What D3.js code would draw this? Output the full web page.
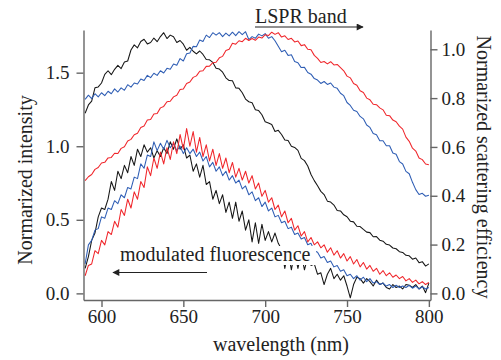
<!DOCTYPE html>
<html><head><meta charset="utf-8">
<script src="https://cdn.jsdelivr.net/npm/d3@7"></script>
<style>body{margin:0;background:#fff}svg{display:block}</style>
</head><body>
<script>
const wavelengths = [
590,592,594,596,598,600,602,604,606,608,
610,612,614,616,618,620,622,624,626,628,
630,632,634,636,638,640,642,644,646,648,
650,652,654,656,658,660,662,664,666,668,
670,672,674,676,678,680,682,684,686,688,
690,692,694,696,698,700,702,704,706,708,
710,712,714,716,718,720,722,724,726,728,
730,732,734,736,738,740,742,744,746,748,
750,752,754,756,758,760,762,764,766,768,
770,772,774,776,778,780,782,784,786,788,
790,792,794,796,798,800];

// scattering efficiency (right axis)
const scatBlack = [
0.738,0.772,0.788,0.842,0.846,0.862,0.897,0.912,0.896,0.918,
0.934,0.921,0.948,0.952,0.997,1.018,1.006,1.032,1.041,1.022,
1.028,1.046,1.031,1.052,1.068,1.044,1.058,1.051,1.028,1.036,
1.021,0.996,1.008,0.992,0.981,0.993,0.979,0.958,0.957,0.946,
0.922,0.919,0.906,0.883,0.872,0.871,0.842,0.840,0.822,0.796,
0.785,0.781,0.752,0.749,0.732,0.703,0.698,0.692,0.663,0.668,
0.651,0.628,0.626,0.603,0.598,0.586,0.553,0.544,0.522,0.487,
0.462,0.441,0.418,0.405,0.378,0.374,0.362,0.340,0.338,0.322,
0.314,0.296,0.293,0.275,0.274,0.262,0.251,0.249,0.232,0.233,
0.218,0.214,0.201,0.198,0.186,0.183,0.171,0.168,0.156,0.154,
0.140,0.145,0.126,0.130,0.112,0.121];
const scatBlue = [
0.795,0.812,0.798,0.818,0.805,0.822,0.810,0.828,0.818,0.838,
0.825,0.842,0.832,0.855,0.845,0.862,0.858,0.878,0.872,0.893,
0.884,0.902,0.893,0.912,0.903,0.922,0.918,0.940,0.935,0.962,
0.952,0.982,0.985,1.012,1.010,1.038,1.032,1.058,1.048,1.068,
1.058,1.068,1.052,1.066,1.055,1.070,1.056,1.072,1.060,1.072,
1.040,1.052,1.045,1.062,1.055,1.064,1.045,1.052,1.035,1.012,
0.990,0.996,0.975,0.978,0.950,0.945,0.925,0.926,0.905,0.898,
0.880,0.874,0.860,0.868,0.856,0.862,0.845,0.840,0.820,0.810,
0.782,0.770,0.750,0.745,0.725,0.715,0.690,0.680,0.655,0.650,
0.625,0.625,0.605,0.605,0.575,0.570,0.540,0.530,0.500,0.490,
0.455,0.425,0.405,0.410,0.398,0.402];
const scatRed = [
0.462,0.478,0.487,0.508,0.516,0.534,0.537,0.555,0.557,0.574,
0.573,0.594,0.601,0.624,0.631,0.650,0.656,0.680,0.686,0.710,
0.712,0.735,0.737,0.760,0.766,0.785,0.787,0.805,0.812,0.835,
0.837,0.860,0.866,0.885,0.891,0.910,0.912,0.930,0.931,0.945,
0.947,0.965,0.971,0.995,1.000,1.025,1.021,1.035,1.031,1.045,
1.036,1.044,1.037,1.050,1.046,1.060,1.056,1.070,1.061,1.068,
1.050,1.055,1.040,1.045,1.030,1.034,1.015,1.019,1.000,0.998,
0.975,0.963,0.946,0.950,0.940,0.949,0.936,0.938,0.925,0.912,
0.890,0.883,0.860,0.853,0.830,0.823,0.800,0.793,0.775,0.773,
0.760,0.752,0.730,0.728,0.710,0.703,0.685,0.673,0.640,0.623,
0.595,0.583,0.555,0.548,0.530,0.527];

// fluorescence intensity (left axis)
const fluoBlack = [
0.17,0.25,0.36,0.41,0.52,0.58,0.57,0.64,0.76,0.70,
0.83,0.78,0.87,0.82,0.93,0.87,0.98,0.93,1.01,0.96,
0.99,0.92,0.97,0.93,0.99,0.95,1.03,0.98,1.05,0.98,
1.01,0.92,0.94,0.83,0.88,0.79,0.87,0.74,0.76,0.64,
0.70,0.61,0.67,0.55,0.62,0.51,0.62,0.49,0.56,0.43,
0.50,0.35,0.48,0.34,0.47,0.36,0.42,0.35,0.41,0.34,
0.30,0.17,0.29,0.16,0.28,0.17,0.27,0.16,0.25,0.19,
0.20,0.13,0.14,0.06,0.13,0.17,0.10,0.13,0.09,0.12,
0.05,-0.03,0.06,0.11,0.10,0.07,0.10,0.08,0.05,0.09,
0.06,0.07,0.04,0.03,0.06,0.04,0.05,0.03,0.06,0.055,
0.04,0.06,0.03,0.05,0.005,0.07];
const fluoBlue = [
0.20,0.33,0.36,0.43,0.44,0.52,0.51,0.58,0.57,0.63,
0.61,0.67,0.65,0.72,0.71,0.79,0.78,0.88,0.85,0.94,
0.93,1.03,0.97,1.02,0.98,1.04,0.99,1.02,0.97,1.00,
0.95,0.99,0.95,0.98,0.93,0.96,0.90,0.93,0.86,0.89,
0.83,0.86,0.80,0.83,0.77,0.80,0.75,0.77,0.71,0.73,
0.67,0.69,0.63,0.65,0.59,0.62,0.56,0.58,0.52,0.53,
0.48,0.49,0.44,0.45,0.40,0.41,0.37,0.38,0.33,0.34,
0.29,0.28,0.24,0.25,0.21,0.22,0.18,0.19,0.15,0.16,
0.12,0.13,0.10,0.12,0.09,0.11,0.08,0.10,0.07,0.08,
0.06,0.07,0.05,0.06,0.04,0.055,0.04,0.05,0.04,0.055,
0.035,0.05,0.03,0.045,0.03,0.04];
const fluoRed = [
0.12,0.19,0.20,0.29,0.27,0.36,0.33,0.42,0.40,0.49,
0.45,0.57,0.53,0.64,0.58,0.69,0.64,0.76,0.72,0.86,
0.80,0.92,0.85,0.96,0.88,0.99,0.91,1.03,0.95,1.08,
0.98,1.12,1.00,1.10,0.96,1.06,0.93,1.01,0.90,0.98,
0.87,0.95,0.85,0.92,0.82,0.89,0.79,0.85,0.77,0.83,
0.75,0.80,0.71,0.75,0.66,0.70,0.62,0.65,0.57,0.60,
0.52,0.56,0.48,0.51,0.43,0.46,0.39,0.42,0.35,0.38,
0.33,0.35,0.31,0.33,0.28,0.31,0.26,0.29,0.24,0.27,
0.22,0.25,0.20,0.23,0.18,0.21,0.165,0.19,0.15,0.17,
0.13,0.155,0.12,0.14,0.11,0.125,0.10,0.115,0.085,0.10,
0.075,0.09,0.065,0.08,0.06,0.075];

const xTicks = [600,650,700,750,800];
const leftTicks = [0,0.5,1.0,1.5];
const rightTicks = [0,0.2,0.4,0.6,0.8,1.0];

const FONT = "'Liberation Serif'";
const W=501,H=360;
const svg=d3.select("body").append("svg").attr("width",W).attr("height",H);
const x=d3.scaleLinear().domain([589,801]).range([83.5,430.5]);
const yL=d3.scaleLinear().domain([-0.045,1.79]).range([300,30]);
const yR=d3.scaleLinear().domain([-0.027,1.079]).range([300,30]);

const COL={black:"#161616",blue:"#2e5db4",red:"#f0262b"};
const plot=svg.append("g");
function draw(vals,y,c){
  const line=d3.line().x((d,i)=>x(wavelengths[i])).y(d=>y(d));
  plot.append("path").datum(vals).attr("d",line).attr("fill","none")
    .attr("stroke",c).attr("stroke-width",1.05).attr("stroke-linejoin","round");
}
draw(scatBlack,yR,COL.black);
draw(scatBlue,yR,COL.blue);
draw(scatRed,yR,COL.red);
draw(fluoBlack,yL,COL.black);
draw(fluoBlue,yL,COL.blue);
draw(fluoRed,yL,COL.red);

// axes
const axCol="#666";
function style(g){
  g.attr("font-family",null).attr("font-size",null);
  g.selectAll("path.domain").attr("stroke",axCol).attr("stroke-width",1.4);
  g.selectAll(".tick line").attr("stroke",axCol).attr("stroke-width",1.4);
  g.selectAll(".tick text").style("font-family",FONT).style("font-size","19px").attr("fill","#222");
}
const gx=svg.append("g").attr("transform","translate(0,300)")
  .call(d3.axisBottom(x).tickValues(xTicks).tickSize(7).tickSizeOuter(0).tickPadding(3).tickFormat(d3.format("d")));
style(gx);
const gl=svg.append("g").attr("transform","translate(83.5,0)")
  .call(d3.axisLeft(yL).tickValues(leftTicks).tickSize(7).tickSizeOuter(0).tickPadding(7).tickFormat(d3.format(".1f")));
style(gl);
const gr=svg.append("g").attr("transform","translate(430.5,0)")
  .call(d3.axisRight(yR).tickValues(rightTicks).tickSize(7).tickSizeOuter(0).tickPadding(4).tickFormat(d3.format(".1f")));
style(gr);

function txt(){ return svg.append("text").style("font-family",FONT).style("font-size","20px").attr("fill","#222"); }
// axis titles
txt().attr("transform","translate(25,180) rotate(-90)").attr("text-anchor","middle")
  .attr("dominant-baseline","central").text("Normarized intensity");
txt().attr("transform","translate(484,167) rotate(90)").attr("text-anchor","middle")
  .attr("dominant-baseline","central").text("Normarized scattering efficiency");
txt().attr("x",281).attr("y",351).attr("text-anchor","middle").text("wavelength (nm)");

// annotations
const defs=svg.append("defs");
defs.append("marker").attr("id","ah").attr("viewBox","0 0 10 10").attr("refX",9).attr("refY",5)
  .attr("markerWidth",9).attr("markerHeight",7).attr("markerUnits","userSpaceOnUse").attr("orient","auto")
  .append("path").attr("d","M0,0L10,5L0,10z").attr("fill","#222");
txt().attr("x",255).attr("y",23).text("LSPR band");
svg.append("line").attr("x1",255).attr("y1",27).attr("x2",363).attr("y2",27)
  .attr("stroke","#222").attr("stroke-width",1.2).attr("marker-end","url(#ah)");

svg.append("rect").attr("x",118).attr("y",246).attr("width",198).attr("height",19).attr("fill","#fff");
txt().attr("x",120).attr("y",261).text("modulated fluorescence");
svg.append("line").attr("x1",207).attr("y1",272.5).attr("x2",113).attr("y2",272.5)
  .attr("stroke","#222").attr("stroke-width",1.2).attr("marker-end","url(#ah)");
</script>
</body></html>
